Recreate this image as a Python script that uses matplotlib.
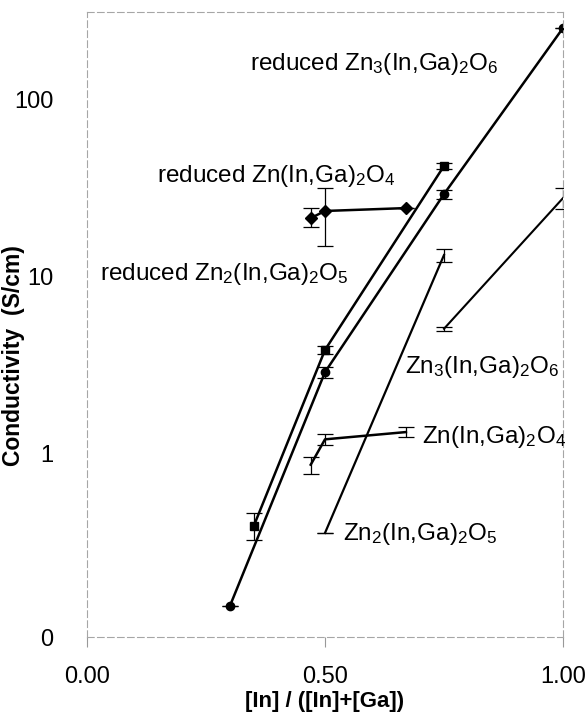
import numpy as np
import matplotlib
matplotlib.use('Agg')
import matplotlib.pyplot as plt

plt.rcParams['font.family'] = ['Liberation Sans', 'DejaVu Sans']
plt.rcParams['mathtext.fontset'] = 'custom'
plt.rcParams['mathtext.rm'] = 'Liberation Sans'
plt.rcParams['mathtext.it'] = 'Liberation Sans'

# reduced samples (filled markers)
red3_x = [0.30, 0.50, 0.75, 1.00]
red3_y = [0.138, 2.9, 29.4, 255.0]
red3_lo = [0.0, 0.2, 1.8, 0.0]
red3_hi = [0.0, 0.2, 1.8, 0.0]

red2_x = [0.35, 0.50, 0.75]
red2_y = [0.39, 3.87, 42.4]
red2_lo = [0.063, 0.18, 1.8]
red2_hi = [0.074, 0.2, 1.8]

red1_x = [0.47, 0.50, 0.67]
red1_y = [21.5, 23.6, 24.5]
red1_lo = [2.3, 8.6, 0.0]
red1_hi = [3.0, 8.2, 0.0]

# as-prepared samples (no markers)
un3_x = [0.75, 1.00]
un3_y = [5.1, 27.9]
un3_lo = [0.12, 3.7]
un3_hi = [0.12, 3.9]

un1_x = [0.47, 0.50, 0.67]
un1_y = [0.87, 1.21, 1.33]
un1_lo = [0.1, 0.09, 0.09]
un1_hi = [0.09, 0.09, 0.09]

un2_x = [0.50, 0.75]
un2_y = [0.358, 13.3]
un2_lo = [0.0, 1.2]
un2_hi = [0.0, 1.1]

ylo, yhi = 0.0925, 314.0
ytick_vals = [ylo, 1, 10, 100]
ytick_labels = ['0', '1', '10', '100']
xtick_vals = [0.0, 0.5, 1.0]
xtick_labels = ['0.00', '0.50', '1.00']

fig = plt.figure(figsize=(5.88, 7.15), dpi=100)
ax = fig.add_axes([87 / 588, 78 / 715, 476 / 588, 625 / 715])
ax.set_yscale('log')

def series(x, y, lo, hi, marker, ms, lw):
    ax.errorbar(x, y, yerr=[lo, hi], fmt='-', color='black', lw=lw,
                marker=marker, ms=ms, mfc='black', mec='black',
                ecolor='black', elinewidth=0.9, capsize=6, capthick=0.9)

series(red3_x, red3_y, red3_lo, red3_hi, 'o', 6, 1.8)
series(red2_x, red2_y, red2_lo, red2_hi, 's', 5.5, 1.8)
series(red1_x, red1_y, red1_lo, red1_hi, 'D', 6.5, 1.8)
series(un3_x, un3_y, un3_lo, un3_hi, None, 0, 1.5)
series(un1_x, un1_y, un1_lo, un1_hi, None, 0, 1.8)
series(un2_x, un2_y, un2_lo, un2_hi, None, 0, 1.6)

fs = 17.5
ax.text(0.342, 147.7, r'reduced Zn$_3$(In,Ga)$_2$O$_6$', fontsize=fs, va='baseline')
ax.text(0.147, 34.4, r'reduced Zn(In,Ga)$_2$O$_4$', fontsize=fs, va='baseline')
ax.text(0.027, 9.6, r'reduced Zn$_2$(In,Ga)$_2$O$_5$', fontsize=fs, va='baseline')
ax.text(0.668, 2.86, r'Zn$_3$(In,Ga)$_2$O$_6$', fontsize=fs, va='baseline')
ax.text(0.704, 1.154, r'Zn(In,Ga)$_2$O$_4$', fontsize=fs, va='baseline')
ax.text(0.538, 0.327, r'Zn$_2$(In,Ga)$_2$O$_5$', fontsize=fs, va='baseline')

ax.set_xlim(0, 1)
ax.set_ylim(ylo, yhi)
ax.set_xticks(xtick_vals)
ax.set_xticklabels(xtick_labels, fontsize=17)
ax.set_yticks(ytick_vals)
ax.set_yticklabels(ytick_labels, fontsize=17)
ax.yaxis.set_minor_locator(matplotlib.ticker.NullLocator())
ax.tick_params(axis='x', direction='out', length=7, width=0.8, color='0.6', pad=14)
ax.tick_params(axis='y', direction='out', length=0, pad=24)

for sp in ax.spines.values():
    sp.set_color('0.65')
    sp.set_linewidth(0.8)
    sp.set_linestyle((0, (6, 3)))

ax.set_xlabel('[In] / ([In]+[Ga])', fontsize=16, fontweight='bold', labelpad=2)
ax.set_ylabel('Conductivity  (S/cm)', fontsize=16.5, fontweight='bold')
ax.yaxis.set_label_coords(-0.130, 0.45)

fig.savefig('out.png', dpi=100)
